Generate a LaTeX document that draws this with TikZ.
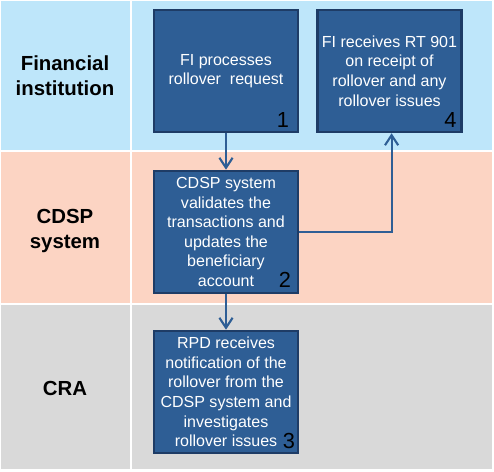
\documentclass[tikz,border=0pt]{standalone}
\usepackage{fontspec}
\setmainfont{Liberation Sans}
\usetikzlibrary{arrows.meta,positioning,calc}

\definecolor{laneblue}{HTML}{BEE6FA}
\definecolor{lanesalmon}{HTML}{FCD4C3}
\definecolor{lanegray}{HTML}{D9D9D9}
\definecolor{boxfill}{HTML}{2E5E95}
\definecolor{boxedge}{HTML}{1E3C66}
\definecolor{flowline}{HTML}{2E5E95}

\begin{document}
\begin{tikzpicture}[x=0.025cm, y=-0.025cm,
			lanelab/.style={font=\fontsize{14.5}{17.7}\selectfont\bfseries, align=center, inner sep=0pt},
			stepbox/.style={rectangle, fill=boxfill, draw=boxedge, line width=1.8pt, text=white, minimum width=3.6cm, minimum height=3.05cm, align=center, inner sep=2pt, font=\fontsize{11.4}{13.9}\selectfont},
			num/.style={font=\fontsize{15.5}{15.5}\selectfont, inner sep=0pt},
			flow/.style={draw=flowline, line width=1.5pt, -{Straight Barb[length=2.5mm,width=3.3mm]}}
			]
			
			\useasboundingbox (0,0) rectangle (494,472);
			
			% --------------------------------------------------------------------
			% swim lanes
			% --------------------------------------------------------------------
			\fill[laneblue] (1,1) rectangle (130,150);
			\fill[laneblue] (132,1) rectangle (492,150);
			\fill[lanesalmon] (1,152) rectangle (130,303);
			\fill[lanesalmon] (132,152) rectangle (492,303);
			\fill[lanegray] (1,305) rectangle (130,469);
			\fill[lanegray] (132,305) rectangle (492,469);
			
			\node[lanelab] (fi) at (65,76) {Financial\\institution};
			\node[lanelab] (cdsp) at (65,231) {CDSP\\system};
			\node[lanelab] (cra) at (65,388) {CRA};
			
			% --------------------------------------------------------------------
			% steps
			% --------------------------------------------------------------------
			\node[stepbox] (box1) at (226,71) {FI processes\\rollover\ \ request};
			\node[stepbox] (box4) at (389.5,71) {FI receives RT 901\\on receipt of\\rollover and any\\rollover issues};
			\node[stepbox] (box2) at (226,232) {CDSP system\\validates the\\transactions and\\updates the\\beneficiary\\account};
			\node[stepbox] (box3) at (226,392) {RPD receives\\notification of the\\rollover from the\\CDSP system and\\investigates\\rollover issues};
			
			\node[num, above left=0.13cm and 0.25cm of box1.south east] (n1) {1};
			\node[num, above left=0.13cm and 0.15cm of box4.south east] (n4) {4};
			\node[num, above left=0.15cm and 0.2cm of box2.south east] (n2) {2};
			\node[num, above left=0.13cm and 0.1cm of box3.south east] (n3) {3};
			
			% arrows
			\draw[flow] (box1) -- (box2);
			\draw[flow] (box2) -- (box3);
			\draw[flow] (box2.east) -| ([xshift=1.5pt]box4.south);
			
		\end{tikzpicture}
\end{document}
